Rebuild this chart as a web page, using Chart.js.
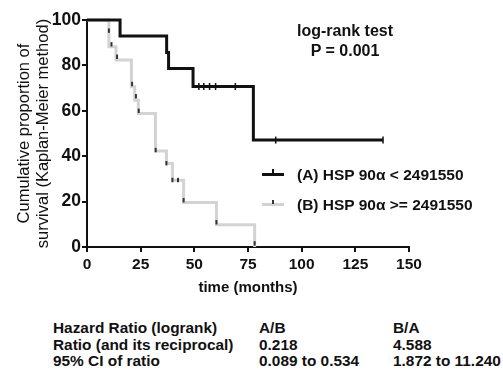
<!DOCTYPE html>
<html><head><meta charset="utf-8">
<script src="https://cdn.jsdelivr.net/npm/chart.js@4.4.1/dist/chart.umd.min.js"></script>
<style>
html,body{margin:0;padding:0;background:#fff;}
#wrap{position:relative;width:503px;height:372px;overflow:hidden;font-family:"Liberation Sans",Arial,sans-serif;font-weight:bold;color:#111;}
canvas{position:absolute;left:0;top:0;}
.t{position:absolute;white-space:nowrap;line-height:18px;font-size:15.5px;}
.c{transform:translateX(-50%);}
.sym{position:absolute;width:22px;height:3px;}
.tick{position:absolute;width:2px;height:6px;}
.tb{font-size:15.4px;}
</style></head><body>
<div id="wrap">
<canvas id="c" width="503" height="300"></canvas>
<div class="t c" style="left:345px;top:21.5px;font-size:16px">log-rank test</div>
<div class="t c" style="left:345px;top:42px;font-size:16px">P = 0.001</div>
<div class="sym" style="left:262px;top:172.5px;background:#111"></div>
<div class="tick" style="left:272px;top:169px;background:#111"></div>
<div class="t" style="left:297px;top:165.5px">(A) HSP 90α &lt; 2491550</div>
<div class="sym" style="left:262px;top:202.5px;background:#d3d3d3"></div>
<div class="tick" style="left:272px;top:200px;height:4px;background:#333"></div>
<div class="t" style="left:297px;top:195.5px">(B) HSP 90α &gt;= 2491550</div>
<div class="t tb" style="left:53px;top:319px">Hazard Ratio (logrank)</div>
<div class="t tb" style="left:259px;top:319px">A/B</div>
<div class="t tb" style="left:393px;top:319px">B/A</div>
<div class="t tb" style="left:53px;top:335.7px">Ratio (and its reciprocal)</div>
<div class="t tb" style="left:259px;top:335.7px">0.218</div>
<div class="t tb" style="left:393px;top:335.7px">4.588</div>
<div class="t tb" style="left:53px;top:352.3px">95% CI of ratio</div>
<div class="t tb" style="left:259px;top:352.3px">0.089 to 0.534</div>
<div class="t tb" style="left:393px;top:352.3px">1.872 to 11.240</div>
</div>
<script>
const timesA = [0, 15.4, 37.1, 38.0, 49.4, 77.5, 137.9];
const survA  = [100, 92.9, 85.7, 78.6, 70.7, 47.1, 47.1];
const censorTimesA = [52.1, 54.4, 57.1, 59.9, 69.1, 87.9, 137.9];
const censorSurvA  = [70.7, 70.7, 70.7, 70.7, 70.7, 47.1, 47.1];
const timesB = [0, 10.2, 13.5, 20.7, 22.2, 23.9, 31.9, 37.0, 39.8, 45.0, 60.3, 78.1];
const survB  = [100, 88.2, 82.4, 70.6, 64.7, 58.8, 42.3, 36.8, 29.4, 19.6, 9.8, 0];
const censorTimesB = [10.2, 11.4, 14.0, 21.0, 22.8, 24.1, 32.0, 37.0, 39.8, 42.4, 45.0, 60.3, 78.1];
const censorSurvB  = [95.3, 89.3, 83.8, 71.8, 66.4, 60.0, 42.7, 36.9, 29.5, 29.5, 20.6, 10.9, 1.6];
const xTicks = [0, 25, 50, 75, 100, 125, 150];
const yTicks = [0, 20, 40, 60, 80, 100];

const pts = (xs, ys) => xs.map((x, i) => ({x: x, y: ys[i]}));
const FONT = '"Liberation Sans", Arial, sans-serif';

new Chart(document.getElementById('c'), {
  type: 'line',
  data: {
    datasets: [
      {data: pts(censorTimesA, censorSurvA), showLine: false, pointStyle: 'line', rotation: 90,
       pointRadius: 3.5, borderColor: '#111', borderWidth: 1.5, order: 0, clip: 8},
      {data: pts(timesA, survA), stepped: true, borderColor: '#111', borderWidth: 3,
       pointRadius: 0, fill: false, order: 1, clip: 8},
      {data: pts(censorTimesB, censorSurvB), showLine: false, pointStyle: 'line', rotation: 90,
       pointRadius: 2.2, borderColor: '#333', borderWidth: 2, order: 2, clip: 8},
      {data: pts(timesB, survB), stepped: true, borderColor: '#d3d3d3', borderWidth: 3,
       pointRadius: 0, fill: false, order: 3, clip: 8}
    ]
  },
  options: {
    responsive: false,
    animation: false,
    devicePixelRatio: 1,
    layout: {padding: {left: 0, top: 20, right: 94, bottom: 0}},
    plugins: {legend: {display: false}, tooltip: {enabled: false}},
    scales: {
      x: {
        type: 'linear', min: 0, max: 150,
        afterBuildTicks: s => { s.ticks = xTicks.map(v => ({value: v})); },
        afterFit: s => { s.height = 53; },
        grid: {drawOnChartArea: false, drawTicks: true, tickLength: 5, color: '#111', lineWidth: 2},
        border: {display: true, color: '#111', width: 2},
        ticks: {color: '#111', padding: 3, maxRotation: 0, font: {family: FONT, size: 15.5, weight: 'bold'}},
        title: {display: true, text: 'time (months)', color: '#111', padding: {top: 0, bottom: 3},
                font: {family: FONT, size: 15, weight: 'bold', lineHeight: 1.2}}
      },
      y: {
        type: 'linear', min: 0, max: 100,
        afterBuildTicks: s => { s.ticks = yTicks.map(v => ({value: v})); },
        afterFit: s => { s.width = 87; },
        grid: {drawOnChartArea: false, drawTicks: true, tickLength: 5, color: '#111', lineWidth: 2},
        border: {display: true, color: '#111', width: 2},
        ticks: {color: '#111', padding: 1, font: {family: FONT, size: 17.5, weight: 'bold'}},
        title: {display: true, text: ['Cumulative proportion of', 'survival (Kaplan-Meier method)'],
                color: '#111', padding: {top: 15.5, bottom: 0},
                font: {family: FONT, size: 16.5, weight: 'normal', lineHeight: 1.12}}
      }
    }
  }
});
</script>
</body></html>
